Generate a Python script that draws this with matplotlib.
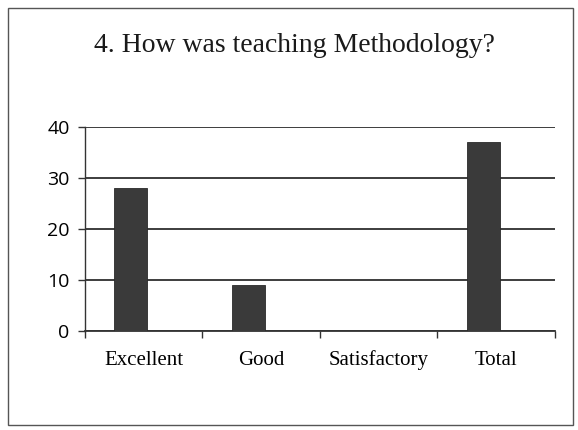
import numpy as np
import matplotlib.pyplot as plt
from matplotlib.patches import Rectangle

categories = ['Excellent', 'Good', 'Satisfactory', 'Total']
responses = [28, 9, 0, 37]
y_ticks = [0, 10, 20, 30, 40]

fig = plt.figure(figsize=(5.78, 4.30), dpi=100)
fig.patch.set_facecolor('white')

# outer chart border (scanned excel box)
fig.add_artist(Rectangle((0.014, 0.012), 0.978, 0.97, transform=fig.transFigure,
                         fill=False, edgecolor='#555555', linewidth=1.0))

ax = fig.add_axes([0.147, 0.230, 0.813, 0.475])
x = np.arange(len(categories))
ax.bar(x + 0.03, responses, width=-0.28, align='edge', color='#3a3a3a',
       edgecolor='#2a2a2a', linewidth=0.6, zorder=3)

ax.set_xlim(-0.5, len(categories) - 0.5)
ax.set_ylim(0, 40)
ax.set_yticks(y_ticks)
ax.set_yticklabels([str(v) for v in y_ticks], family='Open Sans', fontsize=14)
ax.set_xticks(x)
ax.set_xticklabels(categories, family='Liberation Serif', fontsize=15)
ax.set_xticks(np.arange(len(categories) + 1) - 0.5, minor=True)
ax.tick_params(axis='x', which='major', length=0, pad=14)
ax.tick_params(axis='x', which='minor', length=5, width=1, color='#333333')
ax.tick_params(axis='y', length=5, width=1, color='#333333', pad=6)

ax.yaxis.grid(True, color='#2e2e2e', linewidth=1.3, zorder=0)
ax.set_axisbelow(True)
for side in ['top', 'right']:
    ax.spines[side].set_visible(False)
ax.spines['left'].set_color('#333333')
ax.spines['bottom'].set_color('#333333')
ax.spines['left'].set_linewidth(1.0)
ax.spines['bottom'].set_linewidth(1.3)

fig.text(0.51, 0.895, '4. How was teaching Methodology?', ha='center', va='center',
         family='Liberation Serif', fontsize=20, color='#1a1a1a')

fig.savefig('out.png', dpi=100)
